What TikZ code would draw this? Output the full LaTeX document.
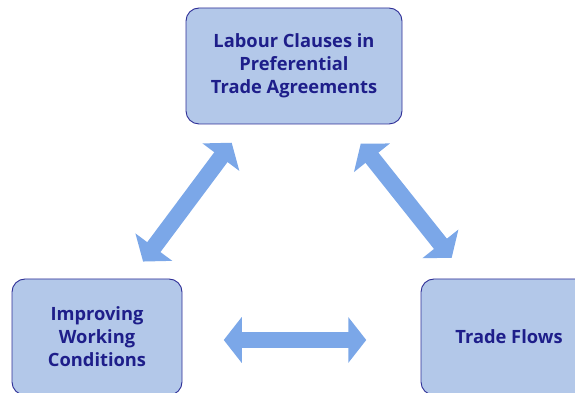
\documentclass[tikz,border=0pt]{standalone}
\usepackage{fontspec}
\setmainfont{Open Sans}
\usetikzlibrary{arrows.meta,positioning,calc}
\definecolor{boxfill}{RGB}{179,200,233}
\definecolor{boxline}{RGB}{45,45,150}
\definecolor{textblue}{RGB}{30,30,138}
\definecolor{arrowblue}{RGB}{123,167,232}
\tikzset{
  topic/.style={draw=boxline,line width=0.9pt,fill=boxfill,rounded corners=13pt,
    text=textblue,align=center,font=\fontsize{18.3}{23}\selectfont\bfseries},
  twoway/.style={arrowblue,line width=16.5pt,
    {Triangle[width=45pt,length=18pt]}-{Triangle[width=45pt,length=18pt]}}
}
\begin{document}
\begin{tikzpicture}[x=1pt,y=1pt]
  \useasboundingbox (0,0) rectangle (575,393);
  \clip (0,0) rectangle (575,393);
  % the three boxes
  \node[topic,minimum width=216pt,minimum height=116pt] (lcp) at (294,327)
    {Labour Clauses in\\Preferential\\Trade Agreements};
  \node[topic,minimum width=170pt,minimum height=116pt] (iwc) at (97,56)
    {Improving\\Working\\Conditions};
  \node[topic,minimum width=176pt,minimum height=116pt] (tf) at (509,56)
    {Trade Flows};
  % two-way arrows between them
  \draw[twoway,shorten <=22.8pt,shorten >=21.2pt]
    ($(lcp.south)+(-48.7,0)$) -- ($(iwc.north)+(33.4,0)$);
  \draw[twoway,shorten <=24.6pt,shorten >=26.4pt]
    ($(lcp.south)+(51.4,0)$) -- ($(tf.north)+(-40.9,0)$);
  \draw[twoway,shorten <=41.3pt,shorten >=54.3pt]
    ([yshift=-3pt]iwc.east) -- ([yshift=-3pt]tf.west);
\end{tikzpicture}
\end{document}
